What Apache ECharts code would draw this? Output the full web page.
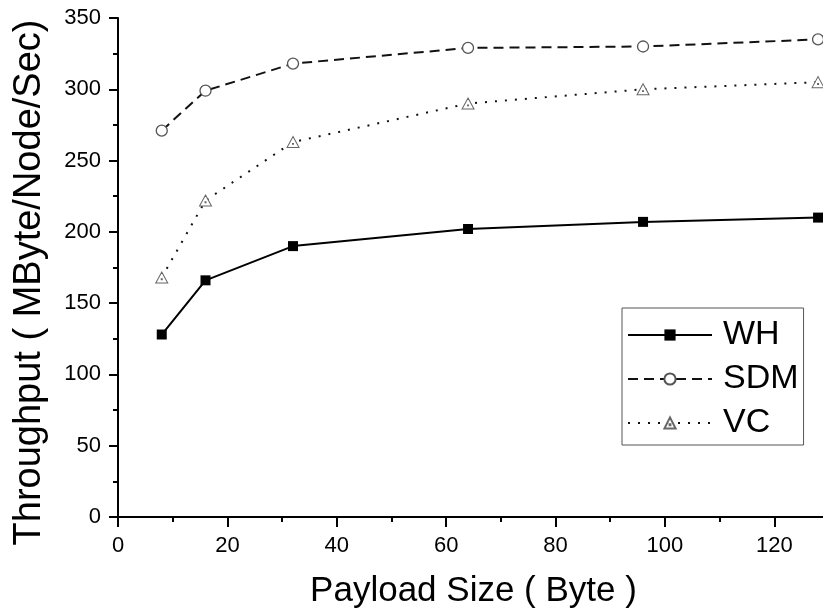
<!DOCTYPE html>
<html>
<head>
<meta charset="utf-8">
<script src="https://cdn.jsdelivr.net/npm/echarts@6/dist/echarts.min.js"></script>
<style>
  html, body { margin: 0; padding: 0; background: #fff; }
  #chart { width: 823px; height: 613px; }
</style>
</head>
<body>
<div id="chart"></div>
<script>
// Payload size (bytes) on the x axis
const payloadSizes = [8, 16, 32, 64, 96, 128];
// Throughput per node (MByte/Node/Sec) for each switching scheme
const whThroughput  = [128, 166, 190, 202, 207, 210];
const sdmThroughput = [271, 299, 318, 329, 330, 335];
const vcThroughput  = [168, 222, 263, 290, 300, 305];
const seriesNames = ['WH', 'SDM', 'VC'];

const FONT = 'Liberation Sans, Arial, sans-serif';

function pairs(xs, ys) {
  return xs.map((x, i) => [x, ys[i]]);
}

// hollow triangle with a small dot at its centre
const triangleDot = 'path://M5,0 L10,9 L0,9 Z M4.6,5.6 L5.4,5.6 L5.4,6.4 L4.6,6.4 Z';

const chart = echarts.init(document.getElementById('chart'), null, { renderer: 'canvas' });

chart.setOption({
  animation: false,
  backgroundColor: '#ffffff',
  grid: {
    left: 118, top: 18, width: 711, height: 499,
    containLabel: false,
    outerBoundsMode: 'none'
  },
  legend: {
    orient: 'vertical',
    left: 622,
    top: 308,
    padding: [10, 5, 5, 5],
    itemWidth: 84,
    itemHeight: 14,
    itemGap: 10,
    borderColor: '#555',
    borderWidth: 1,
    backgroundColor: '#fff',
    data: seriesNames,
    textStyle: { fontFamily: FONT, fontSize: 34, color: '#000', lineHeight: 34, padding: [0, 0, 0, 6] }
  },
  xAxis: {
    type: 'value',
    min: 0,
    max: 130,
    interval: 20,
    name: 'Payload Size ( Byte )',
    nameLocation: 'middle',
    nameGap: 57,
    nameTextStyle: { fontFamily: FONT, fontSize: 35, color: '#000' },
    splitLine: { show: false },
    axisLine: { onZero: false, lineStyle: { color: '#000', width: 2 } },
    axisTick: { inside: false, length: 10, lineStyle: { color: '#000', width: 2 } },
    minorTick: { show: true, splitNumber: 2, length: 5, lineStyle: { color: '#000', width: 2 } },
    axisLabel: {
      fontFamily: FONT, fontSize: 22, color: '#000', margin: 18,
      showMaxLabel: false
    }
  },
  yAxis: {
    type: 'value',
    min: 0,
    max: 350,
    interval: 50,
    name: 'Throughput ( MByte/Node/Sec)',
    nameLocation: 'middle',
    nameGap: 69,
    nameTextStyle: { fontFamily: FONT, fontSize: 38, color: '#000', padding: [0, 30, 0, 0] },
    splitLine: { show: false },
    axisLine: { show: true, onZero: false, lineStyle: { color: '#000', width: 2 } },
    axisTick: { show: true, inside: false, length: 9, lineStyle: { color: '#000', width: 2 } },
    minorTick: { show: true, splitNumber: 2, length: 5, lineStyle: { color: '#000', width: 2 } },
    axisLabel: { fontFamily: FONT, fontSize: 22, color: '#000', margin: 17 }
  },
  series: [
    {
      name: seriesNames[0],
      type: 'line',
      data: pairs(payloadSizes, whThroughput),
      symbol: 'rect',
      symbolSize: 10,
      showAllSymbol: true,
      lineStyle: { color: '#000', width: 2, type: 'solid' },
      itemStyle: { color: '#000', borderColor: '#000', borderWidth: 0 },
      z: 3
    },
    {
      name: seriesNames[1],
      type: 'line',
      data: pairs(payloadSizes, sdmThroughput),
      symbol: 'circle',
      symbolSize: 11,
      showAllSymbol: true,
      lineStyle: { color: '#111', width: 2, type: [10, 6] },
      itemStyle: { color: '#fff', borderColor: '#555', borderWidth: 1.3 },
      z: 3
    },
    {
      name: seriesNames[2],
      type: 'line',
      data: pairs(payloadSizes, vcThroughput),
      symbol: triangleDot,
      symbolSize: [12, 11],
      symbolKeepAspect: false,
      showAllSymbol: true,
      lineStyle: { color: '#111', width: 2, type: [2, 8] },
      itemStyle: { color: '#fff', borderColor: '#666', borderWidth: 1 },
      z: 3
    }
  ]
});
</script>
</body>
</html>
